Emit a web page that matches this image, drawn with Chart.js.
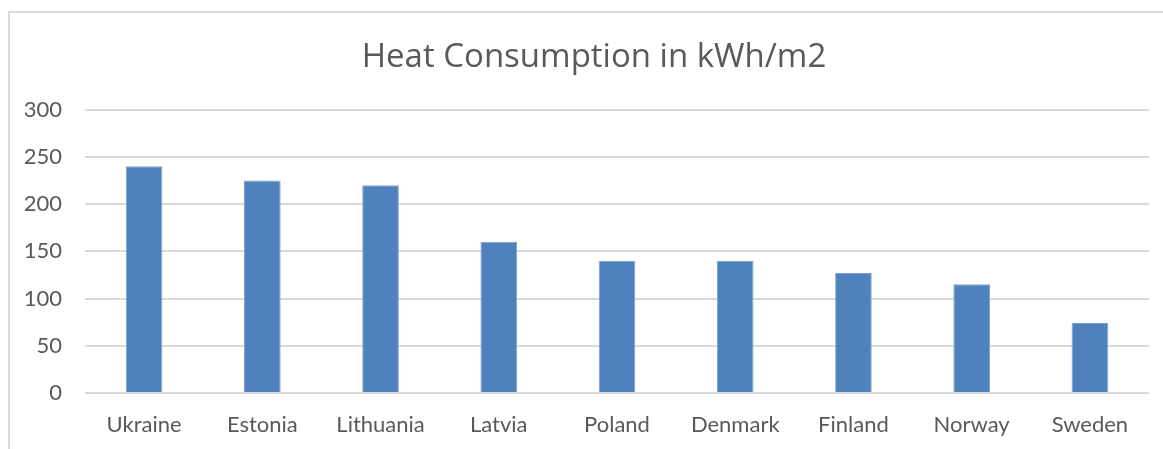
<!DOCTYPE html>
<html>
<head>
<meta charset="utf-8">
<script src="https://cdn.jsdelivr.net/npm/chart.js@4/dist/chart.umd.min.js"></script>
<style>
    body { margin: 0; background: #fff; overflow: hidden; }
    #frame {
        position: absolute; left: 8px; top: 11px;
        width: 1300px; height: 600px;
        border-left: 2px solid #d9d9d9; border-top: 2px solid #d9d9d9;
    }
    #wrap { position: absolute; left: 0; top: 0; width: 1163px; height: 449px; }
</style>
</head>
<body>
<div id="frame"></div>
<div id="wrap"><canvas id="heatChart"></canvas></div>
<script>
// Data
const countries = ['Ukraine', 'Estonia', 'Lithuania', 'Latvia', 'Poland', 'Denmark', 'Finland', 'Norway', 'Sweden'];
const heatValues = [240, 225, 220, 160, 140, 140, 127, 115, 74];
const yTicks = [0, 50, 100, 150, 200, 250, 300];

const textColor = '#595959';
const gridColor = '#d9d9d9';

// Title in the original sits a bit left of the plot centre
const titleShift = {
    id: 'titleShift',
    afterLayout(chart) {
        if (chart.titleBlock) chart.titleBlock.left = 39;
    }
};

const ctx = document.getElementById('heatChart').getContext('2d');
const heatChart = new Chart(ctx, {
    type: 'bar',
    data: {
        labels: countries,
        datasets: [{
            label: 'Heat Consumption',
            data: heatValues,
            backgroundColor: '#4f81bd',
            borderColor: '#7ea2cf',
            borderWidth: 1,
            barPercentage: 0.31,
            categoryPercentage: 1
        }]
    },
    plugins: [titleShift],
    options: {
        responsive: true,
        maintainAspectRatio: false,
        animation: false,
        layout: { padding: { left: 20, right: 14, top: 0, bottom: 0 } },
        plugins: {
            legend: { display: false },
            tooltip: { enabled: false },
            title: {
                display: true,
                text: 'Heat Consumption in kWh/m2',
                color: textColor,
                font: { family: 'Open Sans', size: 33, weight: 'normal' },
                padding: { top: 38, bottom: 32 }
            }
        },
        scales: {
            x: {
                afterFit: (scale) => { scale.height = 56; },
                grid: { display: false, drawTicks: false },
                border: { display: false },
                ticks: {
                    color: textColor,
                    font: { family: 'Lato', size: 22 },
                    padding: 19,
                    maxRotation: 0
                }
            },
            y: {
                min: yTicks[0],
                max: yTicks[yTicks.length - 1],
                afterBuildTicks: (scale) => {
                    scale.ticks = yTicks.map(v => ({ value: v }));
                },
                afterFit: (scale) => { scale.width = 65; },
                grid: { color: gridColor, lineWidth: 2, drawTicks: false },
                border: { display: false },
                ticks: {
                    color: textColor,
                    font: { family: 'Lato', size: 22 },
                    padding: 23
                }
            }
        }
    }
});
</script>
</body>
</html>
